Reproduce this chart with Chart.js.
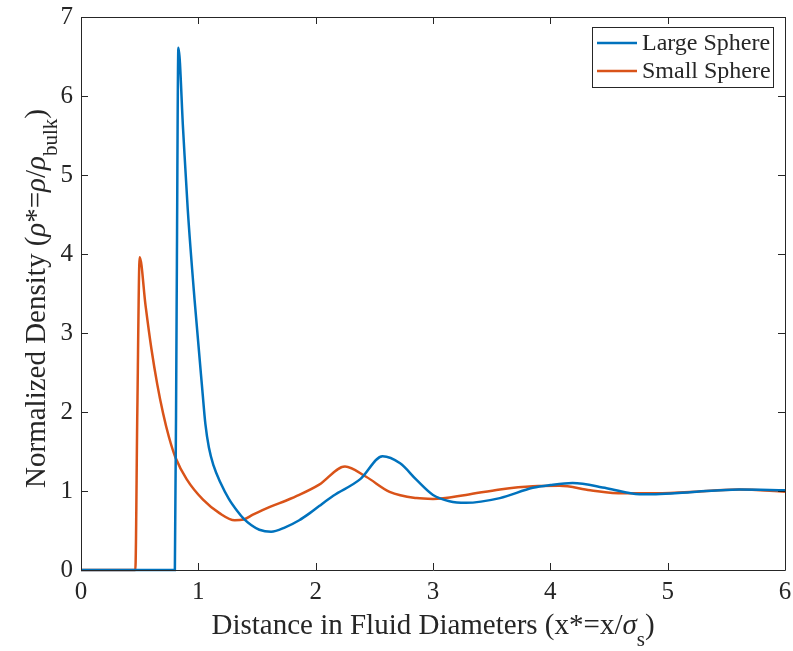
<!DOCTYPE html>
<html>
<head>
<meta charset="utf-8">
<script src="https://cdn.jsdelivr.net/npm/chart.js@4.4.0/dist/chart.umd.min.js"></script>
<style>
  html, body { margin: 0; padding: 0; background: #fff; }
</style>
</head>
<body>
<canvas id="density" width="793" height="651"></canvas>
<script>
// values
const largeX = [0, 0.80, 0.815, 0.83, 0.87, 0.91, 0.968, 1.034, 1.06, 1.09, 1.13, 1.19, 1.26, 1.33, 1.386, 1.45, 1.52, 1.62, 1.74, 1.86, 1.95, 2.03, 2.15, 2.38, 2.57, 2.72, 2.86, 3.0, 3.14, 3.28, 3.57, 3.85, 4.0, 4.19, 4.48, 4.76, 4.90, 5.19, 5.61, 6.0]
const largeY = [0, 0, 3.3, 6.61, 5.58, 4.56, 3.42, 2.28, 1.85, 1.55, 1.32, 1.10, 0.90, 0.75, 0.65, 0.57, 0.51, 0.485, 0.54, 0.63, 0.72, 0.81, 0.94, 1.15, 1.44, 1.35, 1.14, 0.95, 0.87, 0.85, 0.91, 1.04, 1.075, 1.10, 1.035, 0.96, 0.96, 0.985, 1.02, 1.01]

const smallX = [0, 0.463, 0.48, 0.50, 0.55, 0.60, 0.65, 0.70, 0.75, 0.806, 0.90, 1.04, 1.18, 1.31, 1.386, 1.465, 1.61, 1.75, 1.86, 2.03, 2.25, 2.43, 2.63, 2.86, 3.0, 3.28, 3.57, 3.85, 4.08, 4.34, 4.62, 4.90, 5.33, 5.61, 6.0]
const smallY = [0, 0, 2.0, 3.96, 3.35, 2.80, 2.35, 1.98, 1.68, 1.42, 1.15, 0.89, 0.72, 0.63, 0.64, 0.70, 0.80, 0.88, 0.95, 1.08, 1.31, 1.18, 0.99, 0.91, 0.90, 0.95, 1.02, 1.06, 1.065, 1.01, 0.97, 0.97, 1.0, 1.02, 0.99]

const xTicks = [0, 1, 2, 3, 4, 5, 6]
const yTicks = [0, 1, 2, 3, 4, 5, 6, 7]
const seriesNames = ['Large Sphere', 'Small Sphere']
const seriesColors = ['#0072BD', '#D95319']

const xTitle = [{t: 'Distance in Fluid Diameters (x*=x/'}, {t: 'σ', it: true}, {t: 's', sub: true}, {t: ')'}]
const yTitle = [{t: 'Normalized Density ('}, {t: 'ρ', it: true}, {t: '*='}, {t: 'ρ', it: true}, {t: '/'}, {t: 'ρ', it: true}, {t: 'bulk', sub: true}, {t: ')'}]

const INK = '#262626'
const FONT = 'Liberation Serif'

const toPoints = (xs, ys) => xs.map((x, i) => ({x: x, y: ys[i]}))

// draw a title made of normal / italic / subscript pieces, centred on 0
function drawRich(ctx, segs, size) {
  const fontOf = s => (s.it ? 'italic ' : '') + (s.sub ? Math.round(size * 0.72) : size) + 'px "' + FONT + '"'
  let total = 0
  segs.forEach(s => { ctx.font = fontOf(s); s.w = ctx.measureText(s.t).width; total += s.w })
  let x = -total / 2
  ctx.textAlign = 'left'
  ctx.textBaseline = 'alphabetic'
  segs.forEach(s => {
    ctx.font = fontOf(s)
    ctx.fillText(s.t, x, s.sub ? size * 0.4 : 0)
    x += s.w
  })
}

const matlabAxes = {
  id: 'matlabAxes',
  afterDraw(chart) {
    const ctx = chart.ctx
    const a = chart.chartArea
    const xs = chart.scales.x, ys = chart.scales.y
    const tick = 7
    ctx.save()
    ctx.strokeStyle = INK
    ctx.lineWidth = 1
    ctx.beginPath()
    ctx.rect(Math.round(a.left) + 0.5, Math.round(a.top) + 0.5, Math.round(a.right - a.left), Math.round(a.bottom - a.top))
    xTicks.forEach(v => {
      const px = Math.round(xs.getPixelForValue(v)) + 0.5
      ctx.moveTo(px, a.bottom); ctx.lineTo(px, a.bottom - tick)
      ctx.moveTo(px, a.top); ctx.lineTo(px, a.top + tick)
    })
    yTicks.forEach(v => {
      const py = Math.round(ys.getPixelForValue(v)) + 0.5
      ctx.moveTo(a.left, py); ctx.lineTo(a.left + tick, py)
      ctx.moveTo(a.right, py); ctx.lineTo(a.right - tick, py)
    })
    ctx.stroke()

    // axis titles
    ctx.fillStyle = INK
    ctx.save()
    ctx.translate((a.left + a.right) / 2, 634)
    drawRich(ctx, xTitle, 29)
    ctx.restore()
    ctx.save()
    ctx.translate(45, (a.top + a.bottom) / 2 + 5)
    ctx.rotate(-Math.PI / 2)
    drawRich(ctx, yTitle, 29)
    ctx.restore()

    // legend box
    const bx = 592, by = 27, bw = 181, bh = 60
    ctx.fillStyle = '#fff'
    ctx.fillRect(bx, by, bw, bh)
    ctx.strokeStyle = INK
    ctx.strokeRect(bx + 0.5, by + 0.5, bw, bh)
    const rows = [43, 71]
    seriesNames.forEach((name, i) => {
      ctx.strokeStyle = seriesColors[i]
      ctx.lineWidth = 2.5
      ctx.beginPath()
      ctx.moveTo(597, rows[i]); ctx.lineTo(637, rows[i])
      ctx.stroke()
      ctx.fillStyle = INK
      ctx.font = '24px "' + FONT + '"'
      ctx.textAlign = 'left'
      ctx.textBaseline = 'middle'
      ctx.fillText(name, 642, rows[i] + 1)
    })
    ctx.restore()
  }
}

new Chart(document.getElementById('density'), {
  type: 'line',
  data: {
    datasets: [{
      label: seriesNames[0],
      data: toPoints(largeX, largeY),
      borderColor: seriesColors[0],
      borderWidth: 2.5,
      pointRadius: 0,
      cubicInterpolationMode: 'monotone',
      clip: 6
    }, {
      label: seriesNames[1],
      data: toPoints(smallX, smallY),
      borderColor: seriesColors[1],
      borderWidth: 2.5,
      pointRadius: 0,
      cubicInterpolationMode: 'monotone',
      clip: 6
    }]
  },
  options: {
    responsive: false,
    animation: false,
    events: [],
    layout: {
      padding: {top: 17, right: 8, left: 0, bottom: 0}
    },
    plugins: {
      legend: {display: false},
      tooltip: {enabled: false}
    },
    scales: {
      x: {
        type: 'linear',
        min: 0,
        max: 6,
        afterFit: s => { s.height = 81; s.paddingLeft = 0; s.paddingRight = 0 },
        afterBuildTicks: s => { s.ticks = xTicks.map(v => ({value: v})) },
        grid: {display: false, drawTicks: false},
        border: {display: false},
        ticks: {color: INK, padding: 10, font: {family: FONT, size: 25, lineHeight: 1}}
      },
      y: {
        type: 'linear',
        min: 0,
        max: 7,
        afterFit: s => { s.width = 81; s.paddingTop = 0; s.paddingBottom = 0 },
        afterBuildTicks: s => { s.ticks = yTicks.map(v => ({value: v})) },
        grid: {display: false, drawTicks: false},
        border: {display: false},
        ticks: {color: INK, padding: 8, font: {family: FONT, size: 25, lineHeight: 1}}
      }
    }
  },
  plugins: [matlabAxes]
})
</script>
</body>
</html>
